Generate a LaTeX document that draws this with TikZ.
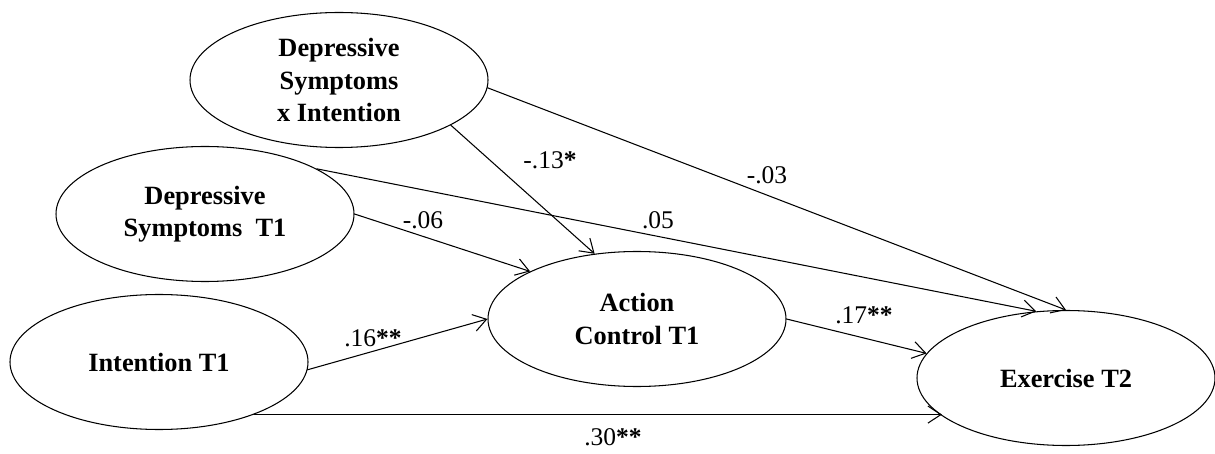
\documentclass[tikz,border=0pt]{standalone}
\usepackage{fontspec}
\setmainfont{Liberation Serif}
\usetikzlibrary{arrows.meta,shapes.geometric}

\begin{document}
\begin{tikzpicture}[>={Straight Barb[length=2.6mm,width=3.4mm]},line cap=round,
  var/.style={draw,ellipse,line width=0.6pt,inner sep=0pt,minimum width=5.96cm,minimum height=2.7cm,align=center,font=\fontsize{15}{18.5}\selectfont\bfseries},
  coef/.style={inner sep=1pt,font=\fontsize{14.5}{16}\selectfont},
  link/.style={->,line width=0.6pt}]
\useasboundingbox (0,0) rectangle (24.3,9.06);
% latent variables
\node[var] (dsxi) at (6.78,7.46) {Depressive\\Symptoms\\x Intention};
\node[var] (dst1) at (4.10,4.78) {Depressive\\Symptoms\ \ T1};
\node[var] (int) at (3.18,1.82) {Intention T1};
\node[var] (act) at (12.74,2.68) {Action\\Control T1};
\node[var] (ex) at (21.32,1.50) {Exercise T2};
% paths
\draw[link] (dsxi.-22) -- (act.123);
\draw[link] (dsxi.-3) -- (ex.90);
\draw[link] (dst1.22) -- (ex.114);
\draw[link] (dst1.0) -- (act.156);
\draw[link] (int.-3) -- (act.180);
\draw[link] (int.-29) -- (int.-29 -| ex.197);
\draw[link] (act.0) -- (ex.170);
% coefficients
\node[coef] (c13) at (11.0,5.86) {-.13\textbf{*}};
\node[coef] (c03) at (15.34,5.56) {-.03};
\node[coef] (c05) at (13.16,4.66) {.05};
\node[coef] (c06) at (8.46,4.66) {-.06};
\node[coef] (c16) at (7.46,2.30) {.16\textbf{**}};
\node[coef] (c30) at (12.26,0.32) {.30\textbf{**}};
\node[coef] (c17) at (17.28,2.76) {.17\textbf{**}};
\end{tikzpicture}
\end{document}
